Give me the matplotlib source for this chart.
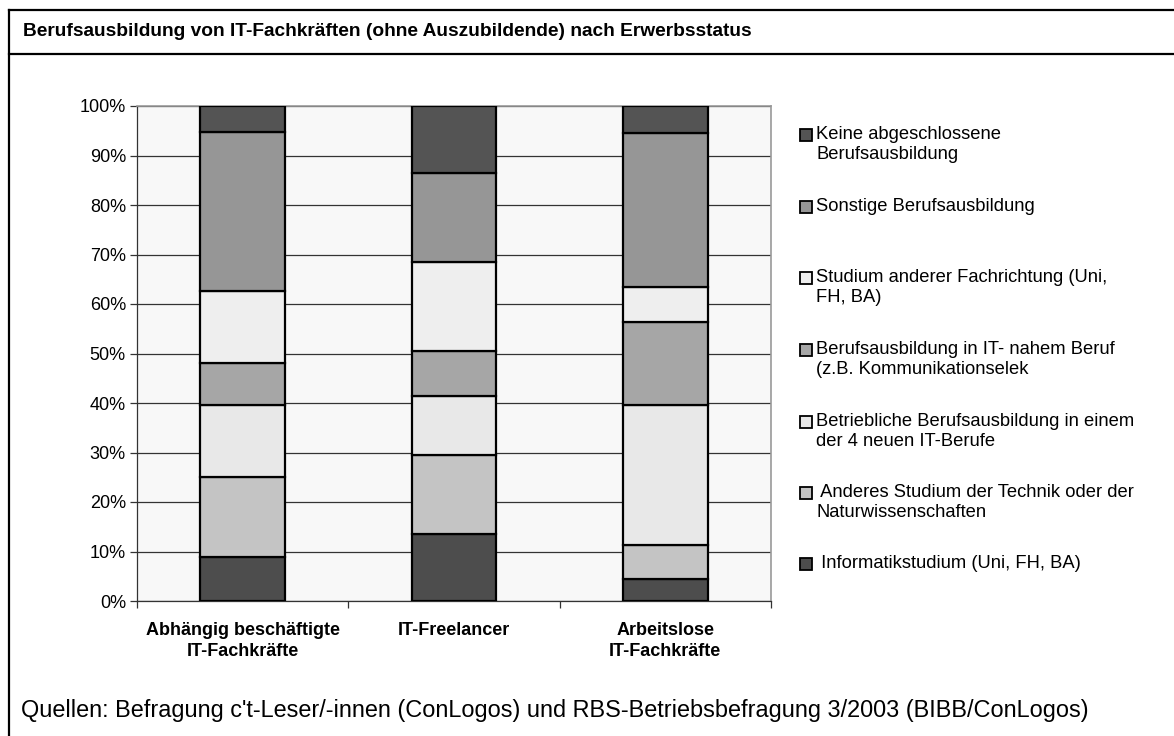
import matplotlib
matplotlib.use("Agg")
import matplotlib.pyplot as plt
from matplotlib.patches import Rectangle
from matplotlib.lines import Line2D
import numpy as np

plt.rcParams['font.family'] = ['Liberation Sans', 'DejaVu Sans']

# categories (x axis)
categories = ["Abhängig beschäftigte\nIT-Fachkräfte", "IT-Freelancer", "Arbeitslose\nIT-Fachkräfte"]

# series, stacked bottom to top (percent)
series_names = [
    " Informatikstudium (Uni, FH, BA)",
    " Anderes Studium der Technik oder der\nNaturwissenschaften",
    "Betriebliche Berufsausbildung in einem\nder 4 neuen IT-Berufe",
    "Berufsausbildung in IT- nahem Beruf\n(z.B. Kommunikationselek",
    "Studium anderer Fachrichtung (Uni,\nFH, BA)",
    "Sonstige Berufsausbildung",
    "Keine abgeschlossene\nBerufsausbildung",
]
informatik = [8.8, 13.5, 4.4]
anderes_studium = [16.2, 15.9, 6.9]
betrieblich = [14.5, 12.1, 28.2]
it_nah = [8.6, 9.1, 16.8]
studium_andere = [14.5, 17.9, 7.1]
sonstige = [32.2, 18.0, 31.1]
keine = [5.2, 13.5, 5.5]
series_values = [informatik, anderes_studium, betrieblich, it_nah,
                 studium_andere, sonstige, keine]
series_colors = ["#4d4d4d", "#c4c4c4", "#e8e8e8", "#a6a6a6",
                 "#eeeeee", "#969696", "#545454"]

ytick_vals = list(range(0, 101, 10))

W, H = 1174, 736
fig = plt.figure(figsize=(W / 100, H / 100), dpi=100)

ax = fig.add_axes([137 / W, 1 - 601 / H, (771 - 137) / W, (601 - 106) / H])
ax.set_facecolor("#f8f8f8")

x = np.arange(len(categories))
bottom = np.zeros(len(categories))
for vals, col in zip(series_values, series_colors):
    ax.bar(x, vals, width=0.4, bottom=bottom, color=col,
           edgecolor="black", linewidth=1.6, zorder=3)
    bottom += np.array(vals)

ax.set_xlim(-0.5, len(categories) - 0.5)
ax.set_ylim(0, 100)
ax.set_yticks(ytick_vals)
ax.set_yticklabels([f"{v}%" for v in ytick_vals], fontsize=13)
ax.yaxis.grid(True, color="#333333", linewidth=0.9, zorder=0)
ax.tick_params(axis="y", length=5, width=0.9, color="#333333", pad=3)

ax.set_xticks(x)
ax.set_xticklabels(categories, fontsize=13, fontweight="bold", linespacing=1.3)
ax.set_xticks(np.arange(-0.5, len(categories), 1.0), minor=True)
ax.tick_params(axis="x", which="major", length=0, pad=15)
ax.tick_params(axis="x", which="minor", length=5, width=0.9, color="#333333")

for side in ["top", "right"]:
    ax.spines[side].set_color("#999999")
    ax.spines[side].set_linewidth(1.2)
for side in ["left", "bottom"]:
    ax.spines[side].set_color("#333333")
    ax.spines[side].set_linewidth(0.9)

# legend, drawn by hand in figure pixels (top entry first)
leg_y = [135, 207, 278, 350, 422, 493, 564]
for yy, name, col in zip(leg_y, series_names[::-1], series_colors[::-1]):
    fig.patches.append(Rectangle((800 / W, 1 - (yy + 6) / H), 12 / W, 12 / H,
                                 transform=fig.transFigure, facecolor=col,
                                 edgecolor="black", linewidth=1.3))
    fig.text(816 / W, 1 - (yy - 9) / H, name, fontsize=13.2, va="top",
             ha="left", linespacing=1.25)

# frame lines
fig.add_artist(Line2D([9 / W, 1], [1 - 10 / H, 1 - 10 / H], color="black",
                      linewidth=1.6, transform=fig.transFigure))
fig.add_artist(Line2D([9 / W, 1], [1 - 54 / H, 1 - 54 / H], color="black",
                      linewidth=1.6, transform=fig.transFigure))
fig.add_artist(Line2D([9 / W, 9 / W], [0, 1 - 10 / H], color="black",
                      linewidth=1.6, transform=fig.transFigure))

fig.text(23 / W, 1 - 32 / H,
         "Berufsausbildung von IT-Fachkräften (ohne Auszubildende) nach Erwerbsstatus",
         fontsize=13.8, fontweight="bold", va="center", ha="left")
fig.text(21 / W, 1 - 711 / H,
         "Quellen: Befragung c't-Leser/-innen (ConLogos) und RBS-Betriebsbefragung 3/2003 (BIBB/ConLogos)",
         fontsize=16.9, va="center", ha="left")

fig.savefig("out.png", dpi=100)
